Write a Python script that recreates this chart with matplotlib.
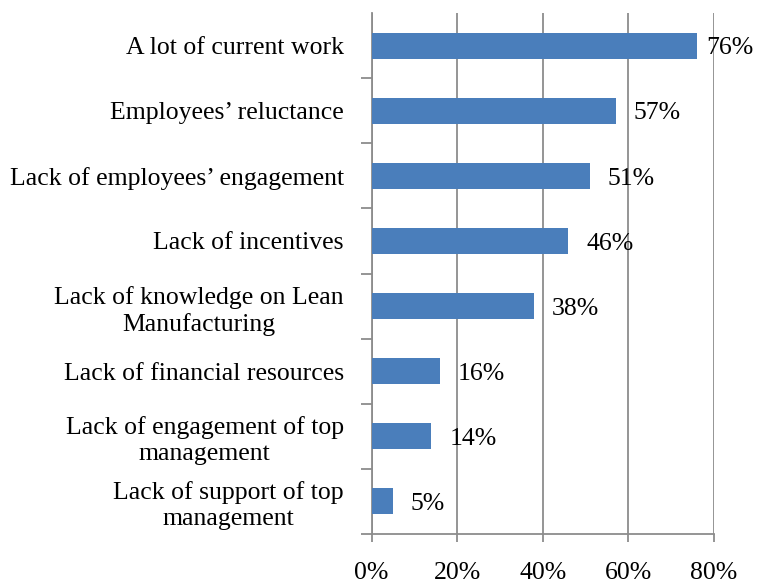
import matplotlib
matplotlib.use("Agg")
import matplotlib.pyplot as plt
from matplotlib.ticker import FixedLocator, PercentFormatter

categories = [
    "A lot of current work",
    "Employees\u2019 reluctance",
    "Lack of employees\u2019 engagement",
    "Lack of incentives",
    "Lack of knowledge on Lean\nManufacturing",
    "Lack of financial resources",
    "Lack of engagement of top\nmanagement",
    "Lack of support of top\nmanagement",
]
values = [76, 57, 51, 46, 38, 16, 14, 5]
x_ticks = [0, 20, 40, 60, 80]

plt.rcParams["font.family"] = ["Liberation Serif", "DejaVu Serif"]

W, H, DPI = 758, 585, 100
fig = plt.figure(figsize=(W / DPI, H / DPI), dpi=DPI)
ax = fig.add_axes([371.5 / W, 1 - 534 / H, (714 - 371.5) / W, (534 - 13) / H])

bar_color = "#4a7ebb"
grid_color = "#8c8c8c"
fs = 18.5

ypos = list(range(len(categories)))
ax.barh(ypos, values, height=0.4, color=bar_color, zorder=3)
ax.set_ylim(len(categories) - 0.5, -0.5)
ax.set_xlim(0, 80)

# vertical gridlines
ax.xaxis.set_major_locator(FixedLocator(x_ticks))
ax.xaxis.set_major_formatter(PercentFormatter(decimals=0))
ax.grid(axis="x", color=grid_color, linewidth=1.3, zorder=1)
ax.set_axisbelow(True)

for side in ("top", "right"):
    ax.spines[side].set_visible(False)
for side in ("left", "bottom"):
    ax.spines[side].set_color(grid_color)
    ax.spines[side].set_linewidth(1.3)

ax.tick_params(axis="x", length=6, width=1.3, color=grid_color, pad=14,
               labelsize=fs)

# category labels on major ticks (no tick mark), tick marks on boundaries
ax.set_yticks(ypos)
ax.set_yticklabels(categories, fontsize=fs, multialignment="center",
                   linespacing=1.22)
ax.tick_params(axis="y", which="major", length=0, pad=20)
ax.set_yticks([i + 0.5 for i in range(len(categories))], minor=True)
ax.tick_params(axis="y", which="minor", length=8, width=1.3, color=grid_color)

# value labels to the right of each bar, kept inside the figure
fig.canvas.draw()
renderer = fig.canvas.get_renderer()
for y, v in zip(ypos, values):
    t = ax.annotate(f"{v}%", xy=(v, y), xytext=(13, -2),
                    textcoords="offset points", va="center", ha="left",
                    fontsize=fs, zorder=4)
    bb = t.get_window_extent(renderer)
    overflow = bb.x1 - (W - 4)
    if overflow > 0:
        t.xyann = (13 - overflow * 72 / DPI, -2)

fig.savefig("out.png", dpi=DPI)
